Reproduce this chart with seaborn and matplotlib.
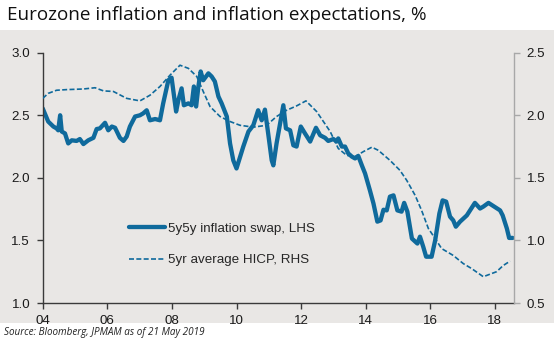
import matplotlib
matplotlib.use("Agg")
import matplotlib.pyplot as plt
from matplotlib.patches import Rectangle
import seaborn as sns
import pandas as pd

# ---- data ----
swap_years = [2004.00, 2004.17, 2004.33, 2004.43, 2004.48, 2004.54, 2004.59, 2004.69, 2004.79, 2004.90,
              2005.05, 2005.15, 2005.26, 2005.41, 2005.57, 2005.67, 2005.77, 2005.93, 2006.03, 2006.14,
              2006.24, 2006.39, 2006.50, 2006.60, 2006.70, 2006.86, 2007.01, 2007.11, 2007.22, 2007.32,
              2007.48, 2007.63, 2007.73, 2007.89, 2007.99, 2008.13, 2008.20, 2008.30, 2008.37, 2008.51,
              2008.61, 2008.68, 2008.75, 2008.82, 2008.89, 2008.97, 2009.13, 2009.23, 2009.33, 2009.44,
              2009.54, 2009.70, 2009.80, 2009.90, 2010.00, 2010.21, 2010.37, 2010.52, 2010.67, 2010.78,
              2010.88, 2010.98, 2011.09, 2011.14, 2011.24, 2011.35, 2011.45, 2011.53, 2011.66, 2011.76,
              2011.86, 2011.99, 2012.12, 2012.28, 2012.46, 2012.59, 2012.74, 2012.84, 2013.00, 2013.10,
              2013.15, 2013.26, 2013.36, 2013.46, 2013.57, 2013.67, 2013.77, 2013.88, 2013.98, 2014.13,
              2014.24, 2014.36, 2014.46, 2014.55, 2014.65, 2014.75, 2014.86, 2014.98, 2015.11, 2015.19,
              2015.29, 2015.43, 2015.60, 2015.68, 2015.78, 2015.87, 2016.04, 2016.15, 2016.28, 2016.38,
              2016.49, 2016.61, 2016.71, 2016.79, 2016.92, 2017.13, 2017.38, 2017.54, 2017.64, 2017.80,
              2017.95, 2018.16, 2018.24, 2018.37, 2018.44, 2018.55]
swap_values = [2.555, 2.45, 2.41, 2.395, 2.38, 2.50, 2.37, 2.355, 2.275, 2.30,
               2.295, 2.31, 2.27, 2.30, 2.32, 2.39, 2.395, 2.44, 2.38, 2.41,
               2.40, 2.32, 2.295, 2.33, 2.41, 2.49, 2.50, 2.515, 2.54, 2.46,
               2.47, 2.46, 2.595, 2.78, 2.80, 2.53, 2.62, 2.715, 2.58, 2.595,
               2.58, 2.73, 2.57, 2.73, 2.85, 2.78, 2.835, 2.81, 2.77, 2.65,
               2.595, 2.49, 2.275, 2.14, 2.075, 2.25, 2.37, 2.42, 2.54, 2.46,
               2.545, 2.355, 2.14, 2.10, 2.275, 2.435, 2.58, 2.395, 2.38, 2.26,
               2.25, 2.41, 2.355, 2.29, 2.40, 2.34, 2.32, 2.295, 2.31, 2.29,
               2.315, 2.25, 2.25, 2.195, 2.17, 2.155, 2.175, 2.10, 2.035, 1.90,
               1.795, 1.65, 1.66, 1.745, 1.74, 1.85, 1.86, 1.74, 1.73, 1.80,
               1.73, 1.515, 1.475, 1.53, 1.45, 1.37, 1.37, 1.50, 1.715, 1.82,
               1.81, 1.69, 1.66, 1.61, 1.65, 1.70, 1.80, 1.755, 1.77, 1.80,
               1.775, 1.74, 1.70, 1.595, 1.52, 1.52]

hicp_years = [2004.00, 2004.17, 2004.43, 2004.74, 2005.26, 2005.62, 2005.88, 2006.19, 2006.60, 2007.01,
              2007.32, 2007.63, 2007.94, 2008.25, 2008.51, 2008.77, 2008.97, 2009.18, 2009.49, 2009.80,
              2010.11, 2010.52, 2010.93, 2011.24, 2011.55, 2011.86, 2012.15, 2012.48, 2012.90, 2013.15,
              2013.41, 2013.67, 2013.93, 2014.19, 2014.39, 2014.75, 2015.06, 2015.27, 2015.53, 2015.73,
              2015.94, 2016.15, 2016.35, 2016.71, 2017.02, 2017.28, 2017.64, 2018.05, 2018.26, 2018.47]
hicp_values = [2.135, 2.175, 2.20, 2.205, 2.21, 2.22, 2.195, 2.19, 2.135, 2.115,
               2.16, 2.23, 2.32, 2.40, 2.375, 2.31, 2.19, 2.07, 1.99, 1.95,
               1.92, 1.905, 1.92, 1.99, 2.04, 2.075, 2.115, 2.03, 1.87, 1.735,
               1.68, 1.67, 1.71, 1.745, 1.72, 1.64, 1.56, 1.48, 1.36, 1.24,
               1.095, 1.015, 0.935, 0.88, 0.815, 0.775, 0.71, 0.75, 0.80, 0.835]

x_ticks = [2004, 2006, 2008, 2010, 2012, 2014, 2016, 2018]
x_tick_labels = ["04", "06", "08", "10", "12", "14", "16", "18"]
left_ticks = [1.0, 1.5, 2.0, 2.5, 3.0]
right_ticks = [0.5, 1.0, 1.5, 2.0, 2.5]

title = "Eurozone inflation and inflation expectations, %"
source = "Source: Bloomberg, JPMAM as of 21 May 2019"
label_swap = "5y5y inflation swap, LHS"
label_hicp = "5yr average HICP, RHS"

# ---- style ----
sns.set_style("white")
plt.rcParams["font.family"] = ["Liberation Sans", "DejaVu Sans"]

line_color = "#0f6a9c"
panel_grey = "#e9e7e5"
dark = "#3a3a3a"
light = "#a8a8a8"

df_swap = pd.DataFrame({"year": swap_years, "value": swap_values})
df_hicp = pd.DataFrame({"year": hicp_years, "value": hicp_values})

fig = plt.figure(figsize=(5.54, 3.43), dpi=100)
fig.patches.append(Rectangle((0, 1 - 323 / 343), 1, (323 - 30) / 343,
                             transform=fig.transFigure, facecolor=panel_grey,
                             edgecolor="none", zorder=-10))

ax = fig.add_axes([42.7 / 554, 1 - 303 / 343, (514.3 - 42.7) / 554, (303 - 52.7) / 343])
ax.set_facecolor("none")
ax2 = ax.twinx()

sns.lineplot(data=df_swap, x="year", y="value", ax=ax, color=line_color,
             linewidth=3.1, legend=False)
sns.lineplot(data=df_hicp, x="year", y="value", ax=ax2, color=line_color,
             linewidth=1.2, legend=False)
ax2.lines[0].set_linestyle((0, (3, 1.4)))

ax.set_xlim(2004, 2018.6)
ax.set_ylim(1.0, 3.0)
ax2.set_ylim(0.5, 2.5)

ax.set_xticks(x_ticks)
ax.set_xticklabels(x_tick_labels)
ax.set_yticks(left_ticks)
ax.set_yticklabels([f"{v:.1f}" for v in left_ticks])
ax2.set_yticks(right_ticks)
ax2.set_yticklabels([f"{v:.1f}" for v in right_ticks])

ax.set_xlabel("")
ax.set_ylabel("")
ax2.set_ylabel("")

for a in (ax, ax2):
    a.grid(False)
    a.spines["top"].set_visible(False)
ax.spines["right"].set_visible(False)
ax2.spines["left"].set_visible(False)
ax2.spines["bottom"].set_visible(False)
ax.spines["left"].set_color(dark)
ax.spines["bottom"].set_color(dark)
ax2.spines["right"].set_color(light)
for s in ("left", "bottom"):
    ax.spines[s].set_linewidth(1.0)
ax2.spines["right"].set_linewidth(1.0)

ax.tick_params(axis="both", direction="out", length=4, width=1.0, color=dark,
               labelsize=9.6, labelcolor="#1a1a1a", pad=5, left=True, bottom=True)
ax2.tick_params(axis="y", direction="out", length=4, width=1.0, color=light,
                labelsize=9.6, labelcolor="#1a1a1a", pad=5, right=True)

ax2.legend([ax.lines[0], ax2.lines[0]], [label_swap, label_hicp],
           loc="center left", bbox_to_anchor=(0.183, 0.234), frameon=False,
           fontsize=9.6, handlelength=2.7, handletextpad=0.2, labelspacing=1.45,
           borderaxespad=0, borderpad=0)

fig.text(7 / 554, 1 - 15 / 343, title, fontsize=13.6, family=["Open Sans", "DejaVu Sans"],
         ha="left", va="center", color="#111111")
fig.text(4 / 554, 1 - 333 / 343, source, fontsize=7.1, family=["Open Sans", "DejaVu Sans"],
         style="italic", ha="left", va="center", color="#222222")

fig.savefig("out.png", dpi=100)
